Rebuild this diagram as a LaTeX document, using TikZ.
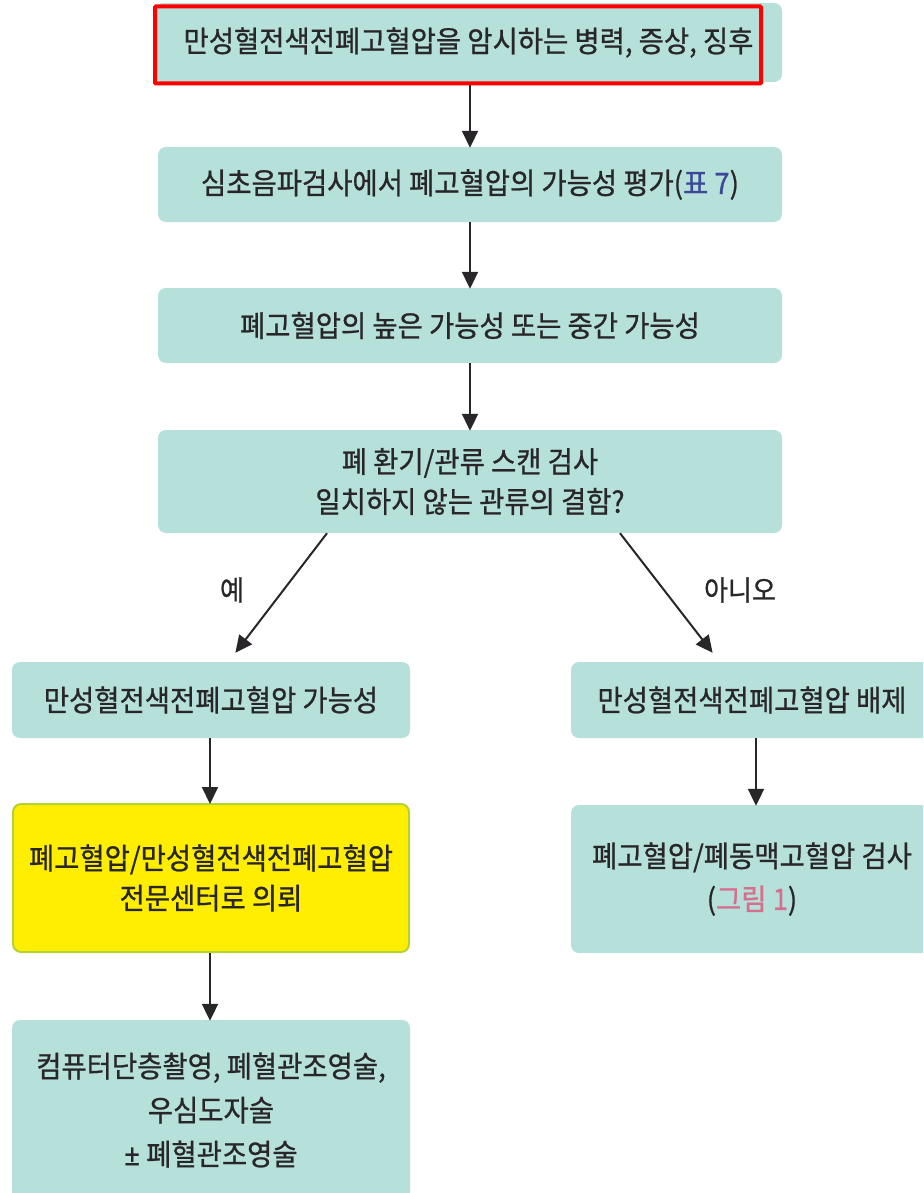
\documentclass[tikz,border=0pt]{standalone}
\usepackage{fontspec}
\setmainfont{Noto Sans CJK KR}[FakeStretch=0.93, FakeBold=0.8]
\newfontfamily\latinpm{Noto Sans}[FakeStretch=0.93, FakeBold=0.8]
\usetikzlibrary{arrows.meta}
\definecolor{tealbox}{RGB}{182,224,218}
\definecolor{txt}{RGB}{40,38,40}
\definecolor{ybox}{RGB}{255,238,0}
\definecolor{yborder}{RGB}{180,210,52}
\definecolor{reflink}{RGB}{60,72,150}
\definecolor{figlink}{RGB}{214,110,140}
\tikzset{
  box/.style={rectangle, rounded corners=8pt, fill=tealbox, draw=none, text=txt,
    align=center, inner sep=0pt, font=\fontsize{29.5}{40}\selectfont},
  ybx/.style={box, fill=ybox, draw=yborder, line width=2pt},
  arr/.style={draw=txt, line width=2pt, -{Triangle[length=17pt,width=16pt]}, shorten >=-1pt},
  lbl/.style={text=txt, font=\fontsize{28}{30}\selectfont, inner sep=0pt},
  hilite/.style={draw=red, line width=4pt, rounded corners=1pt, fill=none}
}
\begin{document}
\begin{tikzpicture}[x=1pt,y=-1pt]
\useasboundingbox (0,0) rectangle (923,1193);
\clip (0,0) rectangle (923,1193);
\node[box, minimum width=627pt, minimum height=79pt] (b1) at (468.5,42.5)
  {만성혈전색전폐고혈압을 암시하는 병력, 증상, 징후};
\node[hilite, minimum width=606pt, minimum height=77pt] (r1) at (458,45) {};
\node[box, minimum width=624pt, minimum height=75pt] (b2) at (470,184.5)
  {심초음파검사에서 폐고혈압의 가능성 평가(\textcolor{reflink}{표 7})};
\node[box, minimum width=624pt, minimum height=75pt] (b3) at (470,325.5)
  {폐고혈압의 높은 가능성 또는 중간 가능성};
\node[box, minimum width=624pt, minimum height=103pt] (b4) at (470,481.5)
  {폐 환기/관류 스캔 검사\\일치하지 않는 관류의 결함?};
\node[box, minimum width=398pt, minimum height=76pt] (b5) at (211,700)
  {만성혈전색전폐고혈압 가능성};
\node[box, minimum width=362pt, minimum height=76pt] (b6) at (752,700)
  {만성혈전색전폐고혈압 배제};
\node[ybx, minimum width=396pt, minimum height=148pt] (b7) at (211,878)
  {폐고혈압/만성혈전색전폐고혈압\\전문센터로 의뢰};
\node[box, minimum width=362pt, minimum height=148pt, font=\fontsize{29.5}{43}\selectfont] (b8) at (752,879)
  {폐고혈압/폐동맥고혈압 검사\\(\textcolor{figlink}{그림 1})};
\node[box, minimum width=398pt, minimum height=180pt, font=\fontsize{29.5}{44}\selectfont] (b9) at (211,1110)
  {컴퓨터단층촬영, 폐혈관조영술,\\우심도자술\\{\latinpm ±} 폐혈관조영술};
\node[lbl] (yes) at (232,590) {예};
\node[lbl] (no) at (740,590) {아니오};
\coordinate (yesend) at (236,652);
\coordinate (noend) at (712,652);
\draw[arr] (r1.south -| b2.north) -- (b2.north);
\draw[arr] (b2.south) -- (b3.north);
\draw[arr] (b3.south) -- (b4.north);
\draw[arr] ([xshift=-143pt]b4.south) -- (yesend);
\draw[arr] ([xshift=150pt]b4.south) -- (noend);
\draw[arr] ([xshift=-1pt]b5.south) -- ([xshift=-1pt]b7.north);
\draw[arr] ([xshift=4pt]b6.south) -- ([xshift=4pt]b8.north);
\draw[arr] ([xshift=-1pt]b7.south) -- ([xshift=-1pt]b9.north);
\end{tikzpicture}
\end{document}
